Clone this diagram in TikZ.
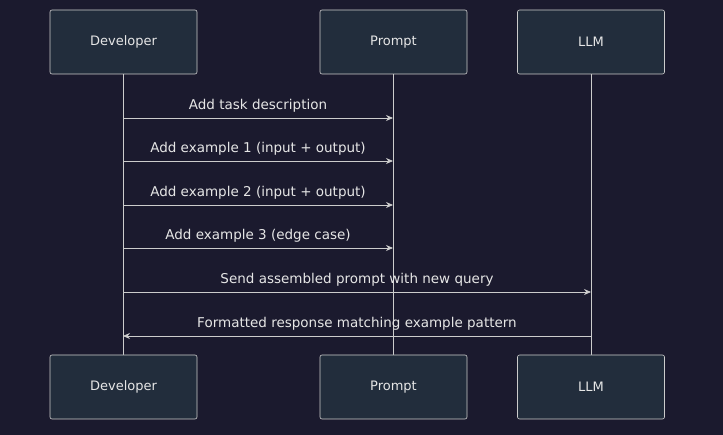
\documentclass[tikz,border=0pt]{standalone}
\usepackage{fontspec}
\setmainfont{DejaVu Sans}
\usetikzlibrary{arrows.meta}
\definecolor{bg}{HTML}{1B1A2E}
\definecolor{boxfill}{HTML}{222D3C}
\definecolor{ln}{HTML}{CCCCCC}
\definecolor{tx}{HTML}{E6E6E6}
\begin{document}
\begin{tikzpicture}[x=1pt,y=-1pt,
  actor/.style={draw=ln,fill=boxfill,rounded corners=2pt,minimum width=147pt,minimum height=64pt,text=tx,font=\fontsize{13}{15}\selectfont,line width=0.6pt},
  msg/.style={draw=ln,line width=0.8pt,-{Stealth[length=7pt,width=6pt]}},
  lbl/.style={text=tx,font=\fontsize{13.5}{15}\selectfont,above,inner sep=5pt}]
\fill[bg] (0,0) rectangle (723,435);
\useasboundingbox (0,0) rectangle (723,435);
\draw[ln,line width=0.6pt] (123,74) -- (123,355) (393,74) -- (393,355) (591,74) -- (591,355);
\node[actor] (d1) at (123.5,42) {Developer};
\node[actor] (p1) at (393.5,42) {Prompt};
\node[actor] (l1) at (591,42) {LLM};
\node[actor] (d2) at (123.5,387) {Developer};
\node[actor] (p2) at (393.5,387) {Prompt};
\node[actor] (l2) at (591,387) {LLM};
\coordinate (a1) at (123,118); \coordinate (b1) at (393,118);
\coordinate (a2) at (123,161); \coordinate (b2) at (393,161);
\coordinate (a3) at (123,205); \coordinate (b3) at (393,205);
\coordinate (a4) at (123,248); \coordinate (b4) at (393,248);
\coordinate (a5) at (123,292); \coordinate (b5) at (591,292);
\coordinate (a6) at (591,336); \coordinate (b6) at (123,336);
\draw[msg] (a1) -- node[lbl] {Add task description} (b1);
\draw[msg] (a2) -- node[lbl] {Add example 1 (input + output)} (b2);
\draw[msg] (a3) -- node[lbl] {Add example 2 (input + output)} (b3);
\draw[msg] (a4) -- node[lbl] {Add example 3 (edge case)} (b4);
\draw[msg] (a5) -- node[lbl] {Send assembled prompt with new query} (b5);
\draw[msg] (a6) -- node[lbl] {Formatted response matching example pattern} (b6);
\end{tikzpicture}
\end{document}
